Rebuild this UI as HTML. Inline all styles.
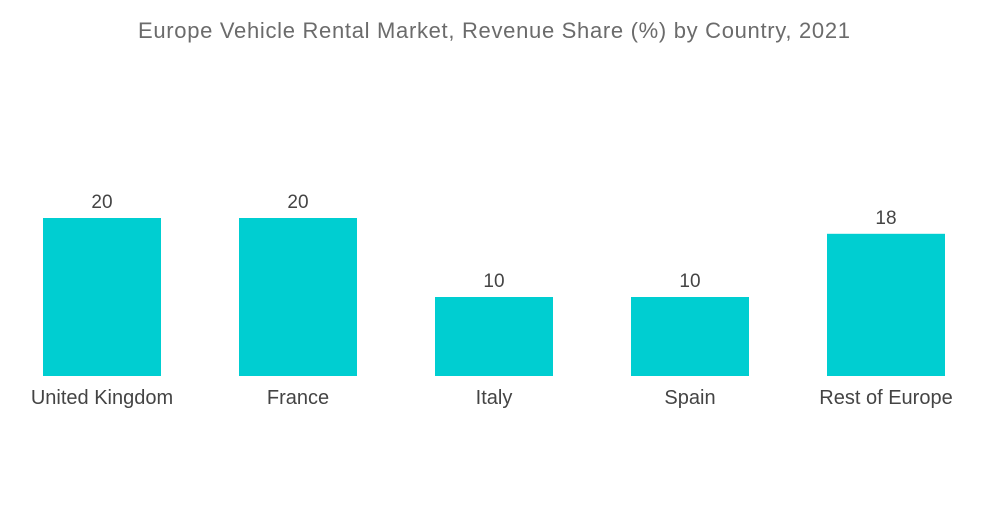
<!DOCTYPE html>
<html><head><meta charset="utf-8"><style>
body{margin:0;background:#fff;width:1000px;height:504px;overflow:hidden;font-family:"Liberation Sans",sans-serif}
</style></head><body>
<svg width="1000" height="504">
<text x="494" y="38" text-anchor="middle" font-size="22" textLength="712" fill="#6b6b6b">Europe Vehicle Rental Market, Revenue Share (%) by Country, 2021</text>
<g id="bars"></g>
</svg>
<script>
const categories=["United Kingdom","France","Italy","Spain","Rest of Europe"];
const values=[20,20,10,10,18];
const labels=["20","20","10","10","18"];
const g=document.getElementById('bars');
const ns="http://www.w3.org/2000/svg";
const x0=43,step=196,bw=118,base=376,scale=7.9;
const xS=i=>x0+i*step;
const yS=v=>base-v*scale;
categories.forEach((c,i)=>{
  const r=document.createElementNS(ns,'rect');
  r.setAttribute('x',xS(i));r.setAttribute('y',yS(values[i]));
  r.setAttribute('width',bw);r.setAttribute('height',base-yS(values[i]));
  r.setAttribute('fill','#00ced1');
  
  
  g.appendChild(r);
  const t=document.createElementNS(ns,'text');
  t.setAttribute('x',xS(i)+bw/2);t.setAttribute('y',yS(values[i])-10);
  t.setAttribute('text-anchor','middle');t.setAttribute('font-size','19');t.setAttribute('fill','#444');
  t.textContent=labels[i];
  
  
  g.appendChild(t);
  const l=document.createElementNS(ns,'text');
  l.setAttribute('x',xS(i)+bw/2);l.setAttribute('y',404);
  l.setAttribute('text-anchor','middle');l.setAttribute('font-size','20');l.setAttribute('fill','#444');
  l.textContent=c;
  
  
  g.appendChild(l);
});
</script>
</body></html>
